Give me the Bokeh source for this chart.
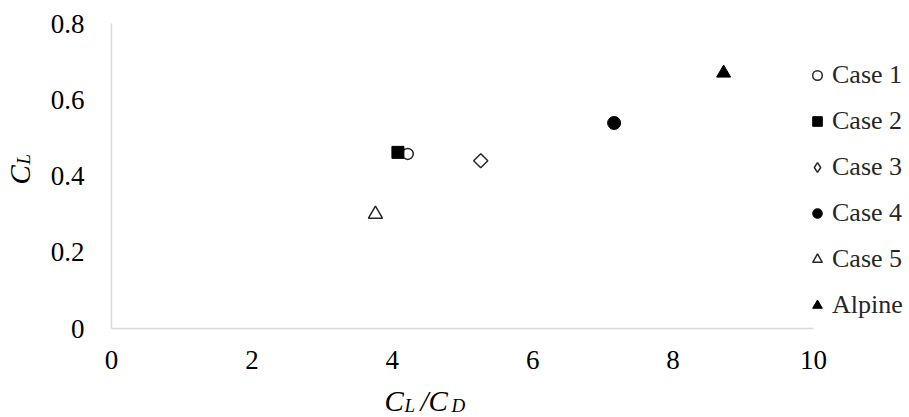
import math
from bokeh.plotting import figure
from bokeh.models import (Range1d, FixedTicker, CustomJSTickFormatter, Legend, LegendItem, Label)
from bokeh.embed import file_html
from bokeh.resources import INLINE

# ---- data ----
cases = ["Case 1", "Case 2", "Case 3", "Case 4", "Case 5", "Alpine"]
cl_cd = [4.22, 4.08, 5.26, 7.16, 3.76, 8.72]
cl = [0.458, 0.462, 0.44, 0.539, 0.30, 0.67]
x_ticks = [0, 2, 4, 6, 8, 10]
y_ticks = [0, 0.2, 0.4, 0.6, 0.8]

FONT = "Liberation Serif"
DARK = "#262626"

# ---- layout (pixels) ----
W, H = 909, 417
AX_LEFT, AX_RIGHT = 111, 813     # pixel x of 0 and 10
AX_TOP, AX_BOTTOM = 23, 328      # pixel y of 0.8 and 0
x0, x1 = x_ticks[0], x_ticks[-1]
y0, y1 = y_ticks[0], y_ticks[-1]
xs = (AX_RIGHT - AX_LEFT) / (x1 - x0)
ys = (AX_BOTTOM - AX_TOP) / (y1 - y0)
x_range = Range1d(x0 - AX_LEFT / xs, x0 + (W - AX_LEFT) / xs)
y_range = Range1d(y0 - (H - AX_BOTTOM) / ys, y0 + AX_BOTTOM / ys)

p = figure(width=W, height=H, min_border=0, min_border_left=0, min_border_right=0,
           min_border_top=0, min_border_bottom=0,
           x_range=x_range, y_range=y_range,
           output_backend="svg", toolbar_location=None)
p.outline_line_color = None
p.xgrid.visible = False
p.ygrid.visible = False
p.background_fill_color = "white"
p.border_fill_color = "white"

for ax in (p.xaxis[0], p.yaxis[0]):
    ax.axis_line_color = "#d9d9d9"
    ax.axis_line_width = 1.5
    ax.major_tick_line_color = None
    ax.minor_tick_line_color = None
    ax.major_tick_in = 0
    ax.major_tick_out = 0
    ax.minor_tick_in = 0
    ax.minor_tick_out = 0
    ax.major_label_text_font = FONT
    ax.major_label_text_font_size = "27px"
    ax.major_label_text_color = "black"

p.xaxis.fixed_location = y0
p.yaxis.fixed_location = x0
p.xaxis.bounds = (x0, x1)
p.yaxis.bounds = (y0, y1)
p.xaxis.ticker = FixedTicker(ticks=x_ticks)
p.yaxis.ticker = FixedTicker(ticks=y_ticks)
p.yaxis.formatter = CustomJSTickFormatter(code="return String(Math.round(tick*10)/10);")
p.xaxis.major_label_standoff = 22
p.yaxis.major_label_standoff = 27

styles = [
    dict(marker="circle", size=11, fill_color="white", line_color=DARK, line_width=1.5),
    dict(marker="square", size=12, fill_color="black", line_color="black", line_width=1),
    dict(marker="square", size=10, angle=math.pi / 4, fill_color="white", line_color=DARK, line_width=1.5),
    dict(marker="circle", size=13, fill_color="black", line_color="black", line_width=1),
    dict(marker="triangle", size=14, fill_color="white", line_color=DARK, line_width=1.5),
    dict(marker="triangle", size=14, fill_color="black", line_color="black", line_width=1),
]

items = []
for name, xv, yv, st in zip(cases, cl_cd, cl, styles):
    r = p.scatter(x=[xv], y=[yv], **st)
    if st.get("angle"):
        # legend symbol for the rotated square: a diamond (legend glyphs ignore angle);
        # the helper renderer holds no drawable point
        leg = {k: v for k, v in st.items() if k not in ("angle", "marker", "size")}
        r = p.scatter(x=[float("nan")], y=[float("nan")], marker="diamond", size=10, **leg)
    items.append(LegendItem(label=name, renderers=[r]))

legend = Legend(items=items, location=(805, H - 320), orientation="vertical",
                glyph_width=24, glyph_height=30, label_height=30, spacing=16,
                padding=0, margin=0, label_standoff=3,
                label_text_font=FONT, label_text_font_size="26px", label_text_color=DARK,
                border_line_color=None, background_fill_alpha=0)
p.add_layout(legend, "center")

# axis titles as text (C_L / C_D with subscripts); px, py are pixel positions
def lab(text, px, py, size, angle=0.0):
    p.add_layout(Label(x=px, y=H - py, x_units="screen", y_units="screen", text=text, angle=angle,
                       text_font=FONT, text_font_style="italic", text_font_size=size,
                       text_color="black", text_baseline="alphabetic", text_align="left"))

lab("C", 384, 400, "29px")
lab("L", 404, 405, "19px")
lab("/C", 420, 400, "29px")
lab("D", 451, 405, "19px")

lab("C", 19, 184, "29px", angle=math.pi / 2)
lab("L", 23, 164, "19px", angle=math.pi / 2)

open("out.html", "w").write(file_html(p, INLINE))
